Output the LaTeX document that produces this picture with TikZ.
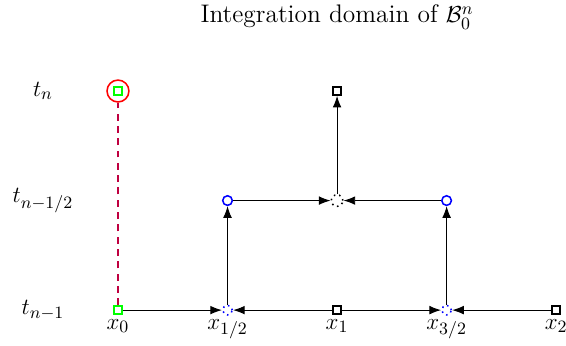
\documentclass[tikz,border=0pt]{standalone}
\usepackage{amsmath,amssymb,amsfonts}
\usepackage{xcolor}
\usepackage{tikz}
\usetikzlibrary{arrows.meta, positioning}
\tikzset{
  knot/.style={rectangle, draw=black, thick, fill=white, minimum size=4.2pt, inner sep=0pt},
  knotgreen/.style={knot, draw=green},
  half/.style={circle, draw=blue, thick, fill=white, minimum size=5pt, inner sep=0pt},
  halfdot/.style={circle, draw=blue, thick, dotted, minimum size=5pt, inner sep=0pt},
  middot/.style={circle, draw=black, thick, dotted, minimum size=6pt, inner sep=0pt},
  ring/.style={circle, draw=red, thick, minimum size=0.4cm, inner sep=0pt},
  xlab/.style={on grid=false, inner sep=1pt},
  tlab/.style={inner sep=1pt},
  arrow/.style={->,>={Latex[scale=1.15]}, line width=0.5pt},
  jump/.style={thick, dash pattern=on 3.6pt off 2.8pt, draw=purple}
}

\begin{document}
\begin{tikzpicture}[x=2cm, y=2cm, node distance=2cm, on grid,
  every node/.style={font=\fontsize{13.2}{16}\selectfont}]
\useasboundingbox (-1.077,-0.32) rectangle (4.09,2.831);
\node (title) at (2,2.676) {Integration domain of $\mathcal{B}_0^n$};

% bottom level t_{n-1}
\node[knotgreen] (a0) at (0,0) {};
\node[halfdot, right=of a0] (a1) {};
\node[knot, right=of a1] (a2) {};
\node[halfdot, right=of a2] (a3) {};
\node[knot, right=of a3] (a4) {};

% half level and top level
\node[half, above=of a1] (b1) {};
\node[middot, above=of a2] (b2) {};
\node[half, above=of a3] (b3) {};
\node[knot, above=of b2] (c2) {};
\node[knotgreen, above=4cm of a0] (c0) {};
\node[ring] (r0) at (c0) {};

% labels
\node[tlab, left=1.37cm of a0] (t0) {$t_{n-1}$};
\node[tlab, left=1.37cm of c0] (t2) {$t_n$};
\node[tlab, above=of t0] (t1) {$t_{n-1/2}$};
\node[xlab, below=1pt of a0] (x0) {$x_0$};
\node[xlab, below=1pt of a1] (x1) {$x_{1/2}$};
\node[xlab, below=1pt of a2] (x2) {$x_1$};
\node[xlab, below=1pt of a3] (x3) {$x_{3/2}$};
\node[xlab, below=1pt of a4] (x4) {$x_2$};

\draw[arrow] (a0) -- (a1);
\draw[arrow] (a2) -- (a1);
\draw[arrow] (a2) -- (a3);
\draw[arrow] (a4) -- (a3);
\draw[arrow] (a1) -- (b1);
\draw[arrow] (a3) -- (b3);
\draw[arrow] (b1) -- (b2);
\draw[arrow] (b3) -- (b2);
\draw[arrow] (b2) -- (c2);
\draw[jump] (a0) -- (r0);
\end{tikzpicture}
\end{document}
